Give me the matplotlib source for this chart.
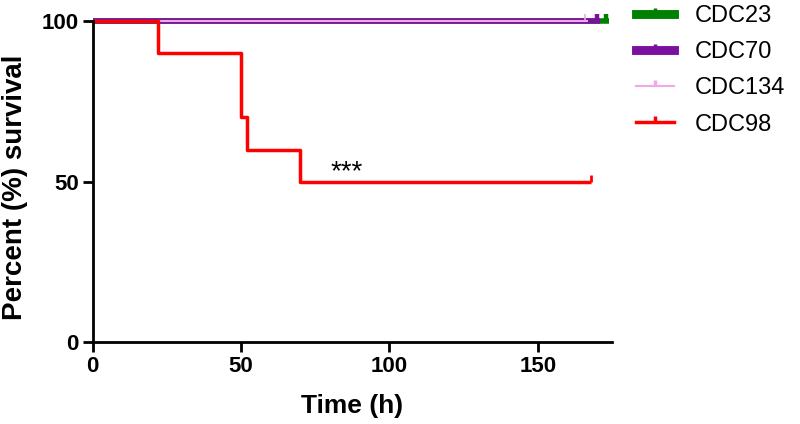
import matplotlib
matplotlib.use("Agg")
import matplotlib.pyplot as plt
from matplotlib.lines import Line2D

plt.rcParams['font.family'] = ['Liberation Sans', 'DejaVu Sans']

# Data
names = ["CDC23", "CDC70", "CDC134", "CDC98"]
colors = ["#008000", "#7B0FA0", "#F0A8E8", "#FF0000"]
widths = [4.0, 4.0, 1.5, 2.5]
cdc23_t = [0, 174]; cdc23_s = [100, 100]; cdc23_cens = [173]
cdc70_t = [0, 171]; cdc70_s = [100, 100]; cdc70_cens = [170]
cdc134_t = [0, 167]; cdc134_s = [100, 100]; cdc134_cens = [166]
cdc98_t = [0, 22, 50, 52, 70, 168]; cdc98_s = [100, 90, 70, 60, 50, 50]; cdc98_cens = [168]
xticks = [0, 50, 100, 150]
yticks = [0, 50, 100]

series = [(cdc23_t, cdc23_s, cdc23_cens), (cdc70_t, cdc70_s, cdc70_cens),
          (cdc134_t, cdc134_s, cdc134_cens), (cdc98_t, cdc98_s, cdc98_cens)]

fig = plt.figure(figsize=(8, 4.24), dpi=100)
ax = fig.add_axes([0.116, 0.193, 0.649, 0.757])

tick_marker = [(0, 0), (0, 1)]
handles = []
for (t, s, c), name, col, lw in zip(series, names, colors, widths):
    ax.step(t, s, where='post', color=col, lw=lw, clip_on=False, solid_capstyle='butt')
    cy = [s[-1]] * len(c)
    ax.plot(c, cy, linestyle='none', marker=tick_marker, markersize=10,
            markeredgewidth=lw * 0.8, color=col, clip_on=False)
    handles.append(Line2D([0], [0], color=col, lw=(lw * 1.6 if lw > 3 else lw),
                          marker=tick_marker, markersize=9, markeredgewidth=2.5,
                          label=name))

ax.text(85.5, 53, "***", fontsize=20, ha='center', va='center')

ax.set_xlim(0, 175)
ax.set_ylim(0, 100)
ax.set_xticks(xticks)
ax.set_yticks(yticks)
for sp in ['top', 'right']:
    ax.spines[sp].set_visible(False)
for sp in ['left', 'bottom']:
    ax.spines[sp].set_linewidth(2)
ax.tick_params(width=2, length=7, labelsize=16, pad=3)
for lab in ax.get_xticklabels() + ax.get_yticklabels():
    lab.set_fontweight('bold')
ax.set_xlabel("Time (h)", fontsize=19, fontweight='bold', labelpad=12)
fig.text(15 / 800, 1 - 187 / 424, "Percent (%) survival", rotation=90,
         fontsize=20, fontweight='bold', ha='center', va='center')

leg = fig.legend(handles=handles, loc='upper left', bbox_to_anchor=(0.795, 0.988),
                 frameon=False, fontsize=17, handlelength=1.6, handletextpad=0.9,
                 labelspacing=0.6, borderpad=0, borderaxespad=0)

fig.savefig("out.png", dpi=100)
